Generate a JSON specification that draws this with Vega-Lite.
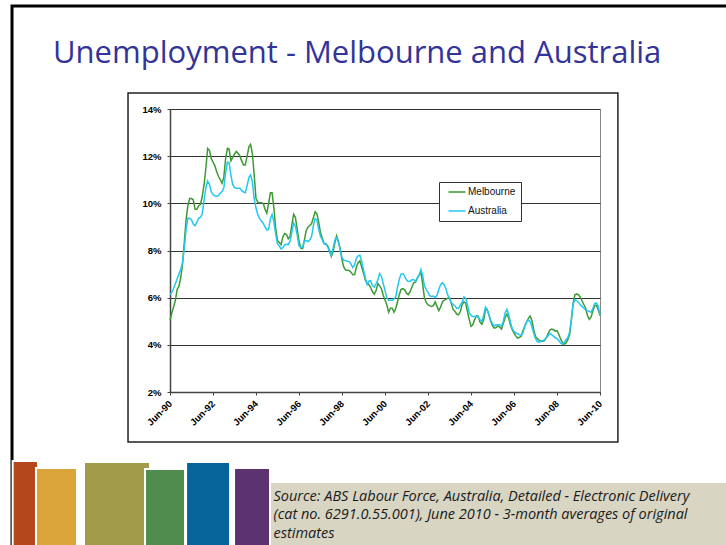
{
"$schema": "https://vega.github.io/schema/vega-lite/v6.json",
"width": 430, "height": 283,
"autosize": "none",
"padding": {"left": 170, "top": 109, "right": 126, "bottom": 153},
"background": "white",
"title": {"text": "Unemployment - Melbourne and Australia", "anchor": "start", "frame": "group", "dx": -117, "dy": 89.5, "offset": 0, "baseline": "alphabetic", "font": "Open Sans", "fontSize": 31, "fontWeight": "normal", "color": "#333399"},
"config": {
  "view": {"stroke": "#888888", "strokeWidth": 1},
  "axis": {"labelFont": "Liberation Sans", "labelFontWeight": "bold", "labelColor": "#000000", "domainColor": "#444444", "domainWidth": 1.5, "tickColor": "#444444", "tickSize": 3},
  "legend": {"labelFont": "Liberation Sans"}
},
"layer": [
  {
   "data": {"values": [
{"month":"1990-06","Melbourne":5.05,"Australia":6.12},
{"month":"1990-07","Melbourne":5.35,"Australia":6.22},
{"month":"1990-08","Melbourne":5.6,"Australia":6.4},
{"month":"1990-09","Melbourne":5.9,"Australia":6.6},
{"month":"1990-10","Melbourne":6.35,"Australia":6.8},
{"month":"1990-11","Melbourne":6.5,"Australia":7.0},
{"month":"1990-12","Melbourne":6.85,"Australia":7.2},
{"month":"1991-01","Melbourne":7.45,"Australia":7.5},
{"month":"1991-02","Melbourne":8.4,"Australia":8.15},
{"month":"1991-03","Melbourne":9.3,"Australia":8.9},
{"month":"1991-04","Melbourne":9.9,"Australia":9.37},
{"month":"1991-05","Melbourne":10.2,"Australia":9.37},
{"month":"1991-06","Melbourne":10.2,"Australia":9.3},
{"month":"1991-07","Melbourne":10.15,"Australia":9.12},
{"month":"1991-08","Melbourne":9.75,"Australia":9.05},
{"month":"1991-09","Melbourne":9.75,"Australia":9.2},
{"month":"1991-10","Melbourne":9.9,"Australia":9.37},
{"month":"1991-11","Melbourne":9.95,"Australia":9.4},
{"month":"1991-12","Melbourne":10.3,"Australia":9.55},
{"month":"1992-01","Melbourne":10.8,"Australia":10.15},
{"month":"1992-02","Melbourne":11.5,"Australia":10.65},
{"month":"1992-03","Melbourne":12.33,"Australia":10.95},
{"month":"1992-04","Melbourne":12.25,"Australia":10.8},
{"month":"1992-05","Melbourne":11.9,"Australia":10.5},
{"month":"1992-06","Melbourne":11.75,"Australia":10.38},
{"month":"1992-07","Melbourne":11.6,"Australia":10.32},
{"month":"1992-08","Melbourne":11.35,"Australia":10.3},
{"month":"1992-09","Melbourne":11.15,"Australia":10.32},
{"month":"1992-10","Melbourne":11.0,"Australia":10.43},
{"month":"1992-11","Melbourne":10.85,"Australia":10.5},
{"month":"1992-12","Melbourne":11.1,"Australia":10.65},
{"month":"1993-01","Melbourne":11.9,"Australia":11.3},
{"month":"1993-02","Melbourne":12.33,"Australia":11.75},
{"month":"1993-03","Melbourne":12.3,"Australia":11.72},
{"month":"1993-04","Melbourne":11.8,"Australia":11.2},
{"month":"1993-05","Melbourne":11.95,"Australia":10.8},
{"month":"1993-06","Melbourne":12.1,"Australia":10.67},
{"month":"1993-07","Melbourne":12.2,"Australia":10.64},
{"month":"1993-08","Melbourne":12.12,"Australia":10.64},
{"month":"1993-09","Melbourne":12.0,"Australia":10.64},
{"month":"1993-10","Melbourne":11.8,"Australia":10.55},
{"month":"1993-11","Melbourne":11.63,"Australia":10.48},
{"month":"1993-12","Melbourne":11.63,"Australia":10.45},
{"month":"1994-01","Melbourne":12.0,"Australia":10.75},
{"month":"1994-02","Melbourne":12.4,"Australia":11.1},
{"month":"1994-03","Melbourne":12.5,"Australia":11.2},
{"month":"1994-04","Melbourne":12.1,"Australia":10.9},
{"month":"1994-05","Melbourne":11.2,"Australia":10.2},
{"month":"1994-06","Melbourne":10.2,"Australia":9.8},
{"month":"1994-07","Melbourne":10.05,"Australia":9.52},
{"month":"1994-08","Melbourne":10.03,"Australia":9.36},
{"month":"1994-09","Melbourne":10.03,"Australia":9.25},
{"month":"1994-10","Melbourne":10.0,"Australia":9.16},
{"month":"1994-11","Melbourne":9.75,"Australia":9.0},
{"month":"1994-12","Melbourne":9.58,"Australia":8.87},
{"month":"1995-01","Melbourne":10.0,"Australia":8.9},
{"month":"1995-02","Melbourne":10.45,"Australia":9.35},
{"month":"1995-03","Melbourne":10.45,"Australia":9.53},
{"month":"1995-04","Melbourne":9.8,"Australia":9.2},
{"month":"1995-05","Melbourne":8.95,"Australia":8.7},
{"month":"1995-06","Melbourne":8.42,"Australia":8.28},
{"month":"1995-07","Melbourne":8.34,"Australia":8.2},
{"month":"1995-08","Melbourne":8.25,"Australia":8.07},
{"month":"1995-09","Melbourne":8.58,"Australia":8.12},
{"month":"1995-10","Melbourne":8.72,"Australia":8.25},
{"month":"1995-11","Melbourne":8.68,"Australia":8.26},
{"month":"1995-12","Melbourne":8.5,"Australia":8.25},
{"month":"1996-01","Melbourne":8.6,"Australia":8.4},
{"month":"1996-02","Melbourne":9.1,"Australia":8.78},
{"month":"1996-03","Melbourne":9.54,"Australia":9.16},
{"month":"1996-04","Melbourne":9.4,"Australia":9.03},
{"month":"1996-05","Melbourne":8.9,"Australia":8.65},
{"month":"1996-06","Melbourne":8.4,"Australia":8.2},
{"month":"1996-07","Melbourne":8.1,"Australia":8.12},
{"month":"1996-08","Melbourne":8.08,"Australia":8.16},
{"month":"1996-09","Melbourne":8.45,"Australia":8.4},
{"month":"1996-10","Melbourne":8.85,"Australia":8.42},
{"month":"1996-11","Melbourne":9.0,"Australia":8.38},
{"month":"1996-12","Melbourne":9.06,"Australia":8.45},
{"month":"1997-01","Melbourne":9.15,"Australia":8.6},
{"month":"1997-02","Melbourne":9.4,"Australia":9.08},
{"month":"1997-03","Melbourne":9.64,"Australia":9.35},
{"month":"1997-04","Melbourne":9.55,"Australia":9.3},
{"month":"1997-05","Melbourne":9.2,"Australia":8.9},
{"month":"1997-06","Melbourne":8.75,"Australia":8.6},
{"month":"1997-07","Melbourne":8.52,"Australia":8.45},
{"month":"1997-08","Melbourne":8.3,"Australia":8.28},
{"month":"1997-09","Melbourne":8.28,"Australia":8.27},
{"month":"1997-10","Melbourne":8.2,"Australia":8.15},
{"month":"1997-11","Melbourne":8.0,"Australia":7.95},
{"month":"1997-12","Melbourne":7.75,"Australia":7.8},
{"month":"1998-01","Melbourne":7.95,"Australia":8.1},
{"month":"1998-02","Melbourne":8.35,"Australia":8.45},
{"month":"1998-03","Melbourne":8.62,"Australia":8.55},
{"month":"1998-04","Melbourne":8.38,"Australia":8.35},
{"month":"1998-05","Melbourne":8.06,"Australia":8.05},
{"month":"1998-06","Melbourne":7.6,"Australia":7.7},
{"month":"1998-07","Melbourne":7.3,"Australia":7.58},
{"month":"1998-08","Melbourne":7.17,"Australia":7.58},
{"month":"1998-09","Melbourne":7.16,"Australia":7.54},
{"month":"1998-10","Melbourne":7.15,"Australia":7.53},
{"month":"1998-11","Melbourne":7.08,"Australia":7.42},
{"month":"1998-12","Melbourne":6.97,"Australia":7.28},
{"month":"1999-01","Melbourne":6.98,"Australia":7.4},
{"month":"1999-02","Melbourne":7.3,"Australia":7.68},
{"month":"1999-03","Melbourne":7.48,"Australia":7.77},
{"month":"1999-04","Melbourne":7.56,"Australia":7.8},
{"month":"1999-05","Melbourne":7.3,"Australia":7.55},
{"month":"1999-06","Melbourne":7.05,"Australia":7.18},
{"month":"1999-07","Melbourne":6.75,"Australia":6.86},
{"month":"1999-08","Melbourne":6.62,"Australia":6.55},
{"month":"1999-09","Melbourne":6.55,"Australia":6.7},
{"month":"1999-10","Melbourne":6.43,"Australia":6.72},
{"month":"1999-11","Melbourne":6.25,"Australia":6.5},
{"month":"1999-12","Melbourne":6.15,"Australia":6.45},
{"month":"2000-01","Melbourne":6.3,"Australia":6.6},
{"month":"2000-02","Melbourne":6.6,"Australia":6.76},
{"month":"2000-03","Melbourne":6.5,"Australia":7.02},
{"month":"2000-04","Melbourne":6.38,"Australia":6.9},
{"month":"2000-05","Melbourne":6.1,"Australia":6.6},
{"month":"2000-06","Melbourne":5.9,"Australia":6.3},
{"month":"2000-07","Melbourne":5.7,"Australia":6.0},
{"month":"2000-08","Melbourne":5.38,"Australia":5.88},
{"month":"2000-09","Melbourne":5.55,"Australia":5.9},
{"month":"2000-10","Melbourne":5.55,"Australia":5.88},
{"month":"2000-11","Melbourne":5.38,"Australia":5.94},
{"month":"2000-12","Melbourne":5.55,"Australia":6.05},
{"month":"2001-01","Melbourne":5.85,"Australia":6.47},
{"month":"2001-02","Melbourne":6.15,"Australia":6.8},
{"month":"2001-03","Melbourne":6.35,"Australia":7.0},
{"month":"2001-04","Melbourne":6.38,"Australia":7.02},
{"month":"2001-05","Melbourne":6.33,"Australia":6.9},
{"month":"2001-06","Melbourne":6.19,"Australia":6.75},
{"month":"2001-07","Melbourne":6.13,"Australia":6.69},
{"month":"2001-08","Melbourne":6.25,"Australia":6.7},
{"month":"2001-09","Melbourne":6.45,"Australia":6.76},
{"month":"2001-10","Melbourne":6.63,"Australia":6.76},
{"month":"2001-11","Melbourne":6.66,"Australia":6.69},
{"month":"2001-12","Melbourne":6.83,"Australia":6.83},
{"month":"2002-01","Melbourne":6.96,"Australia":6.95},
{"month":"2002-02","Melbourne":7.08,"Australia":7.2},
{"month":"2002-03","Melbourne":6.6,"Australia":6.95},
{"month":"2002-04","Melbourne":6.0,"Australia":6.5},
{"month":"2002-05","Melbourne":5.8,"Australia":6.35},
{"month":"2002-06","Melbourne":5.7,"Australia":6.22},
{"month":"2002-07","Melbourne":5.65,"Australia":6.08},
{"month":"2002-08","Melbourne":5.63,"Australia":6.05},
{"month":"2002-09","Melbourne":5.66,"Australia":6.07},
{"month":"2002-10","Melbourne":5.82,"Australia":6.0},
{"month":"2002-11","Melbourne":5.63,"Australia":6.1},
{"month":"2002-12","Melbourne":5.45,"Australia":6.35},
{"month":"2003-01","Melbourne":5.6,"Australia":6.55},
{"month":"2003-02","Melbourne":5.82,"Australia":6.64},
{"month":"2003-03","Melbourne":5.89,"Australia":6.55},
{"month":"2003-04","Melbourne":5.93,"Australia":6.38},
{"month":"2003-05","Melbourne":5.98,"Australia":6.12},
{"month":"2003-06","Melbourne":6.0,"Australia":5.98},
{"month":"2003-07","Melbourne":5.78,"Australia":5.78},
{"month":"2003-08","Melbourne":5.5,"Australia":5.72},
{"month":"2003-09","Melbourne":5.43,"Australia":5.66},
{"month":"2003-10","Melbourne":5.3,"Australia":5.55},
{"month":"2003-11","Melbourne":5.27,"Australia":5.55},
{"month":"2003-12","Melbourne":5.4,"Australia":5.68},
{"month":"2004-01","Melbourne":5.7,"Australia":5.8},
{"month":"2004-02","Melbourne":5.82,"Australia":6.03},
{"month":"2004-03","Melbourne":5.77,"Australia":5.98},
{"month":"2004-04","Melbourne":5.42,"Australia":5.7},
{"month":"2004-05","Melbourne":5.08,"Australia":5.38},
{"month":"2004-06","Melbourne":4.78,"Australia":5.25},
{"month":"2004-07","Melbourne":4.85,"Australia":5.2},
{"month":"2004-08","Melbourne":5.07,"Australia":5.2},
{"month":"2004-09","Melbourne":5.23,"Australia":5.2},
{"month":"2004-10","Melbourne":5.22,"Australia":5.18},
{"month":"2004-11","Melbourne":4.96,"Australia":5.06},
{"month":"2004-12","Melbourne":4.87,"Australia":4.99},
{"month":"2005-01","Melbourne":5.05,"Australia":5.25},
{"month":"2005-02","Melbourne":5.47,"Australia":5.6},
{"month":"2005-03","Melbourne":5.5,"Australia":5.5},
{"month":"2005-04","Melbourne":5.27,"Australia":5.27},
{"month":"2005-05","Melbourne":5.0,"Australia":5.05},
{"month":"2005-06","Melbourne":4.8,"Australia":4.88},
{"month":"2005-07","Melbourne":4.71,"Australia":4.8},
{"month":"2005-08","Melbourne":4.73,"Australia":4.85},
{"month":"2005-09","Melbourne":4.8,"Australia":4.85},
{"month":"2005-10","Melbourne":4.75,"Australia":4.85},
{"month":"2005-11","Melbourne":4.67,"Australia":4.78},
{"month":"2005-12","Melbourne":4.9,"Australia":5.0},
{"month":"2006-01","Melbourne":5.15,"Australia":5.35},
{"month":"2006-02","Melbourne":5.3,"Australia":5.5},
{"month":"2006-03","Melbourne":5.15,"Australia":5.3},
{"month":"2006-04","Melbourne":4.85,"Australia":4.95},
{"month":"2006-05","Melbourne":4.65,"Australia":4.7},
{"month":"2006-06","Melbourne":4.5,"Australia":4.57},
{"month":"2006-07","Melbourne":4.38,"Australia":4.5},
{"month":"2006-08","Melbourne":4.29,"Australia":4.47},
{"month":"2006-09","Melbourne":4.32,"Australia":4.43},
{"month":"2006-10","Melbourne":4.36,"Australia":4.4},
{"month":"2006-11","Melbourne":4.6,"Australia":4.52},
{"month":"2006-12","Melbourne":4.8,"Australia":4.78},
{"month":"2007-01","Melbourne":4.97,"Australia":4.97},
{"month":"2007-02","Melbourne":5.12,"Australia":5.05},
{"month":"2007-03","Melbourne":5.22,"Australia":4.99},
{"month":"2007-04","Melbourne":5.03,"Australia":4.78},
{"month":"2007-05","Melbourne":4.65,"Australia":4.5},
{"month":"2007-06","Melbourne":4.36,"Australia":4.27},
{"month":"2007-07","Melbourne":4.26,"Australia":4.14},
{"month":"2007-08","Melbourne":4.2,"Australia":4.11},
{"month":"2007-09","Melbourne":4.16,"Australia":4.14},
{"month":"2007-10","Melbourne":4.15,"Australia":4.18},
{"month":"2007-11","Melbourne":4.18,"Australia":4.22},
{"month":"2007-12","Melbourne":4.3,"Australia":4.3},
{"month":"2008-01","Melbourne":4.47,"Australia":4.38},
{"month":"2008-02","Melbourne":4.63,"Australia":4.49},
{"month":"2008-03","Melbourne":4.67,"Australia":4.43},
{"month":"2008-04","Melbourne":4.64,"Australia":4.37},
{"month":"2008-05","Melbourne":4.58,"Australia":4.3},
{"month":"2008-06","Melbourne":4.6,"Australia":4.26},
{"month":"2008-07","Melbourne":4.45,"Australia":4.18},
{"month":"2008-08","Melbourne":4.25,"Australia":4.08},
{"month":"2008-09","Melbourne":4.1,"Australia":4.02},
{"month":"2008-10","Melbourne":4.02,"Australia":4.1},
{"month":"2008-11","Melbourne":4.08,"Australia":4.22},
{"month":"2008-12","Melbourne":4.22,"Australia":4.3},
{"month":"2009-01","Melbourne":4.43,"Australia":4.55},
{"month":"2009-02","Melbourne":5.1,"Australia":5.1},
{"month":"2009-03","Melbourne":5.75,"Australia":5.72},
{"month":"2009-04","Melbourne":6.12,"Australia":5.92},
{"month":"2009-05","Melbourne":6.16,"Australia":5.87},
{"month":"2009-06","Melbourne":6.12,"Australia":5.8},
{"month":"2009-07","Melbourne":6.02,"Australia":5.7},
{"month":"2009-08","Melbourne":5.86,"Australia":5.63},
{"month":"2009-09","Melbourne":5.7,"Australia":5.55},
{"month":"2009-10","Melbourne":5.55,"Australia":5.48},
{"month":"2009-11","Melbourne":5.23,"Australia":5.45},
{"month":"2009-12","Melbourne":5.08,"Australia":5.42},
{"month":"2010-01","Melbourne":5.18,"Australia":5.38},
{"month":"2010-02","Melbourne":5.45,"Australia":5.55},
{"month":"2010-03","Melbourne":5.65,"Australia":5.75},
{"month":"2010-04","Melbourne":5.68,"Australia":5.78},
{"month":"2010-05","Melbourne":5.5,"Australia":5.65},
{"month":"2010-06","Melbourne":5.23,"Australia":5.27}
   ], "format": {"parse": {"month": "utc:'%Y-%m'"}}},
   "transform": [{"fold": ["Melbourne", "Australia"], "as": ["series", "rate"]}],
   "mark": {"type": "line", "strokeWidth": 1.5, "interpolate": "linear"},
   "encoding": {
     "x": {"field": "month", "type": "temporal",
       "scale": {"type": "utc", "domain": [{"year": 1990, "month": 6, "date": 1, "utc": true}, {"year": 2010, "month": 6, "date": 1, "utc": true}]},
       "axis": {"values": [{"year": 1990, "month": 6, "date": 1, "utc": true}, {"year": 1992, "month": 6, "date": 1, "utc": true}, {"year": 1994, "month": 6, "date": 1, "utc": true}, {"year": 1996, "month": 6, "date": 1, "utc": true}, {"year": 1998, "month": 6, "date": 1, "utc": true}, {"year": 2000, "month": 6, "date": 1, "utc": true}, {"year": 2002, "month": 6, "date": 1, "utc": true}, {"year": 2004, "month": 6, "date": 1, "utc": true}, {"year": 2006, "month": 6, "date": 1, "utc": true}, {"year": 2008, "month": 6, "date": 1, "utc": true}, {"year": 2010, "month": 6, "date": 1, "utc": true}],
         "labelExpr": "utcFormat(datum.value, '%b-%y')", "labelAngle": -45, "labelAlign": "right", "labelBaseline": "middle", "labelFontSize": 9.5, "labelPadding": 7, "grid": false, "labelOverlap": false, "labelBound": false, "labelFlush": false, "zindex": 1,
         "title": ["Source: ABS Labour Force, Australia, Detailed - Electronic Delivery", "(cat no. 6291.0.55.001), June 2010 - 3-month averages of original", "estimates"],
         "titleFont": "Open Sans", "titleFontStyle": "italic", "titleFontWeight": "normal", "titleFontSize": 14.5, "titleColor": "#1a1a1a", "titleAlign": "left", "titleAnchor": "start", "titleBaseline": "alphabetic", "titleX": 103, "titleY": 108, "titleLineHeight": 18.5, "titleAngle": 0}},
     "y": {"field": "rate", "type": "quantitative",
       "scale": {"domain": [2, 14], "nice": false, "zero": false},
       "axis": {"values": [2, 4, 6, 8, 10, 12, 14], "labelExpr": "datum.value + '%'", "labelFontSize": 9.5, "labelPadding": 6, "grid": true, "gridColor": "#333333", "gridWidth": 1, "title": null}},
     "color": {"field": "series", "type": "nominal",
       "scale": {"domain": ["Melbourne", "Australia"], "range": ["#3c9a32", "#22c8f2"]},
       "legend": {"orient": "none", "legendX": 269, "legendY": 73, "title": null, "symbolType": "M-2,0H2", "symbolSize": 72, "symbolStrokeWidth": 1.5, "labelFontSize": 10, "labelColor": "#111111", "labelOffset": 6, "rowPadding": 9, "padding": 5, "strokeColor": "#333333", "fillColor": "#ffffff", "symbolOffset": 8}}
   }
  },
  {"data": {"values": [{}]}, "mark": {"type": "rect", "fillOpacity": 0, "stroke": "#000000", "strokeWidth": 3},
   "encoding": {"x": {"datum": {"year": 1983, "month": 1, "date": 25, "utc": true}, "type": "temporal"}, "x2": {"datum": {"year": 2016, "month": 12, "date": 1, "utc": true}}, "y": {"datum": 18.37, "type": "quantitative"}, "y2": {"datum": -5.2}}},
  {"data": {"values": [{}]}, "mark": {"type": "rect", "fill": "#d8d5c3"},
   "encoding": {"x": {"datum": {"year": 1994, "month": 9, "date": 11, "utc": true}, "type": "temporal"}, "x2": {"datum": {"year": 2016, "month": 12, "date": 1, "utc": true}}, "y": {"datum": -1.86, "type": "quantitative"}, "y2": {"datum": -5.2}}},
  {"data": {"values": [{}]}, "mark": {"type": "rect", "fill": "#b5471c", "stroke": "#ffffff", "strokeWidth": 2},
   "encoding": {"x": {"datum": {"year": 1983, "month": 2, "date": 5, "utc": true}, "type": "temporal"}, "x2": {"datum": {"year": 1984, "month": 4, "date": 10, "utc": true}}, "y": {"datum": -0.93, "type": "quantitative"}, "y2": {"datum": -5.2}}},
  {"data": {"values": [{}]}, "mark": {"type": "rect", "fill": "#dba43a", "stroke": "#ffffff", "strokeWidth": 2},
   "encoding": {"x": {"datum": {"year": 1984, "month": 3, "date": 7, "utc": true}, "type": "temporal"}, "x2": {"datum": {"year": 1986, "month": 2, "date": 3, "utc": true}}, "y": {"datum": -1.22, "type": "quantitative"}, "y2": {"datum": -5.2}}},
  {"data": {"values": [{}]}, "mark": {"type": "rect", "fill": "#a19b4a", "stroke": "#ffffff", "strokeWidth": 2},
   "encoding": {"x": {"datum": {"year": 1986, "month": 6, "date": 1, "utc": true}, "type": "temporal"}, "x2": {"datum": {"year": 1989, "month": 6, "date": 27, "utc": true}}, "y": {"datum": -0.97, "type": "quantitative"}, "y2": {"datum": -5.2}}},
  {"data": {"values": [{}]}, "mark": {"type": "rect", "fill": "#4f8c4d", "stroke": "#ffffff", "strokeWidth": 2},
   "encoding": {"x": {"datum": {"year": 1989, "month": 4, "date": 3, "utc": true}, "type": "temporal"}, "x2": {"datum": {"year": 1991, "month": 2, "date": 12, "utc": true}}, "y": {"datum": -1.27, "type": "quantitative"}, "y2": {"datum": -5.2}}},
  {"data": {"values": [{}]}, "mark": {"type": "rect", "fill": "#06649b", "stroke": "#ffffff", "strokeWidth": 2},
   "encoding": {"x": {"datum": {"year": 1991, "month": 3, "date": 1, "utc": true}, "type": "temporal"}, "x2": {"datum": {"year": 1993, "month": 3, "date": 17, "utc": true}}, "y": {"datum": -0.97, "type": "quantitative"}, "y2": {"datum": -5.2}}},
  {"data": {"values": [{}]}, "mark": {"type": "rect", "fill": "#5c3370", "stroke": "#ffffff", "strokeWidth": 2},
   "encoding": {"x": {"datum": {"year": 1993, "month": 5, "date": 24, "utc": true}, "type": "temporal"}, "x2": {"datum": {"year": 1995, "month": 1, "date": 25, "utc": true}}, "y": {"datum": -1.22, "type": "quantitative"}, "y2": {"datum": -5.2}}},
  {"data": {"values": [{}]}, "mark": {"type": "rect", "fillOpacity": 0, "stroke": "#222222", "strokeWidth": 1.5},
   "encoding": {"x": {"datum": {"year": 1988, "month": 6, "date": 18, "utc": true}, "type": "temporal"}, "x2": {"datum": {"year": 2011, "month": 4, "date": 1, "utc": true}}, "y": {"datum": 14.68, "type": "quantitative"}, "y2": {"datum": -0.12}}}
]
}
